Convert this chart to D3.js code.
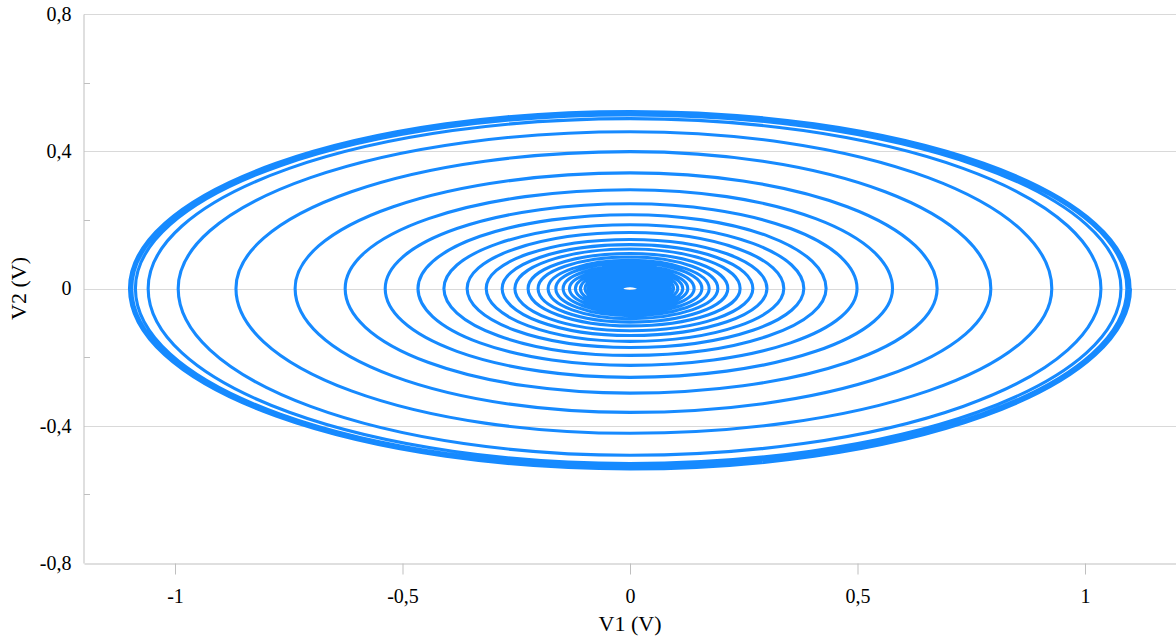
<!DOCTYPE html>
<html>
<head>
<meta charset="utf-8">
<script src="https://cdn.jsdelivr.net/npm/d3@7"></script>
<style>
  body { margin: 0; background: #fff; }
  text { font-family: "Liberation Serif", "Times New Roman", serif; fill: #000; }
</style>
</head>
<body>
<div id="plot"></div>
<script>
// Spiral, one row per turn (inner -> outer):
// crossing on the right, top, crossing on the left, bottom
const rightX = [0.017, 0.019, 0.021, 0.023, 0.025, 0.027, 0.029, 0.031, 0.034, 0.037,
  0.040, 0.043, 0.046, 0.050, 0.054, 0.058, 0.062, 0.067, 0.072, 0.077,
  0.083, 0.089, 0.096, 0.105, 0.116,
  0.127, 0.141, 0.158, 0.174, 0.193, 0.215, 0.242, 0.270, 0.301, 0.338,
  0.382, 0.431, 0.499, 0.577, 0.675, 0.793, 0.927, 1.035, 1.079, 1.092,
  1.097, 1.099, 1.100];
const topY = [0.008, 0.009, 0.010, 0.011, 0.012, 0.013, 0.014, 0.015, 0.016, 0.018,
  0.019, 0.021, 0.022, 0.024, 0.026, 0.028, 0.030, 0.032, 0.034, 0.037,
  0.040, 0.042, 0.045, 0.050, 0.055,
  0.060, 0.067, 0.075, 0.082, 0.092, 0.102, 0.115, 0.128, 0.143, 0.163,
  0.186, 0.215, 0.247, 0.288, 0.337, 0.399, 0.457, 0.495, 0.506, 0.511,
  0.514, 0.516];
const leftX = [-0.018, -0.020, -0.022, -0.024, -0.026, -0.028, -0.030, -0.033, -0.036, -0.039,
  -0.042, -0.045, -0.048, -0.052, -0.056, -0.060, -0.065, -0.070, -0.075, -0.080,
  -0.086, -0.092, -0.099, -0.109, -0.120,
  -0.133, -0.147, -0.163, -0.180, -0.202, -0.224, -0.253, -0.281, -0.316, -0.358,
  -0.409, -0.466, -0.538, -0.626, -0.736, -0.866, -0.993, -1.059, -1.087, -1.095,
  -1.098, -1.100];
const bottomY = [-0.009, -0.010, -0.011, -0.012, -0.013, -0.014, -0.015, -0.016, -0.017, -0.019,
  -0.020, -0.022, -0.023, -0.025, -0.027, -0.029, -0.031, -0.034, -0.036, -0.039,
  -0.042, -0.045, -0.048, -0.053, -0.058,
  -0.064, -0.071, -0.079, -0.088, -0.098, -0.109, -0.123, -0.137, -0.154, -0.172,
  -0.195, -0.224, -0.259, -0.305, -0.361, -0.422, -0.486, -0.510, -0.518, -0.522,
  -0.525, -0.526];

const xTicks = [-1, -0.5, 0, 0.5, 1];
const yTicks = [-0.8, -0.4, 0, 0.4, 0.8];
const yMinor = [-0.6, -0.2, 0.2, 0.6];

const w = 1176;
const h = 640;
const margin = {top: 14, right: 0, bottom: 77, left: 84};

const xScale = d3.scaleLinear()
  .domain([-1.2, 1.2])
  .range([margin.left, w - margin.right]);

const yScale = d3.scaleLinear()
  .domain([-0.8, 0.8])
  .range([h - margin.bottom, margin.top]);

const fmt = d => String(d).replace(".", ",");

const svg = d3.select("div#plot")
  .append("svg")
  .attr("width", w)
  .attr("height", h);

// gridlines
svg.append("g")
  .selectAll("line")
  .data(yTicks.filter(d => d !== -0.8))
  .join("line")
  .attr("x1", margin.left)
  .attr("x2", w)
  .attr("y1", d => Math.round(yScale(d)) + 0.5)
  .attr("y2", d => Math.round(yScale(d)) + 0.5)
  .attr("stroke", "#d9d9d9")
  .attr("stroke-width", 1);

// spiral, built from quarter ellipse arcs centred on the origin
const x0 = xScale(0), y0 = yScale(0);
let p = `M${xScale(rightX[0])},${y0}`;
rightX.forEach((r, i) => {
  if (i > 0) {
    // bottom -> right
    p += `A${xScale(r) - x0},${yScale(bottomY[i - 1]) - y0} 0 0 0 ${xScale(r)},${y0}`;
  }
  if (i >= topY.length) return;
  const t = topY[i], l = leftX[i];
  p += `A${xScale(r) - x0},${y0 - yScale(t)} 0 0 0 ${x0},${yScale(t)}`;
  p += `A${x0 - xScale(l)},${y0 - yScale(t)} 0 0 0 ${xScale(l)},${y0}`;
  if (i < bottomY.length) {
    const b = bottomY[i];
    p += `A${x0 - xScale(l)},${yScale(b) - y0} 0 0 0 ${x0},${yScale(b)}`;
  }
});

svg.append("path")
  .attr("d", p)
  .attr("fill", "none")
  .attr("stroke", "#168aff")
  .attr("stroke-width", 3.1);

// axes
const yAxis = d3.axisLeft(yScale)
  .tickValues(yTicks)
  .tickSize(0)
  .tickPadding(12)
  .tickFormat(fmt);

const yG = svg.append("g")
  .attr("transform", `translate(${margin.left - 0.5},0)`)
  .call(yAxis);
yG.select(".domain").attr("stroke", "#bfbfbf");
yG.selectAll("text").attr("font-size", 20).attr("font-family", "Liberation Serif");

svg.append("g")
  .selectAll("line")
  .data(yMinor)
  .join("line")
  .attr("x1", margin.left)
  .attr("x2", margin.left + 6)
  .attr("y1", d => Math.round(yScale(d)) + 0.5)
  .attr("y2", d => Math.round(yScale(d)) + 0.5)
  .attr("stroke", "#bfbfbf");

const xAxis = d3.axisBottom(xScale)
  .tickValues(xTicks)
  .tickSizeInner(11)
  .tickSizeOuter(0)
  .tickPadding(14)
  .tickFormat(fmt);

const xG = svg.append("g")
  .attr("transform", `translate(0,${h - margin.bottom + 0.5})`)
  .call(xAxis);
xG.select(".domain").attr("stroke", "#bfbfbf");
xG.selectAll("line").attr("stroke", "#bfbfbf");
xG.selectAll("text").attr("font-size", 20).attr("font-family", "Liberation Serif");

// axis titles
svg.append("text")
  .attr("x", xScale(0))
  .attr("y", 631)
  .attr("text-anchor", "middle")
  .attr("font-size", 22)
  .text("V1 (V)");

svg.append("text")
  .attr("transform", `translate(26,${yScale(0)}) rotate(-90)`)
  .attr("text-anchor", "middle")
  .attr("font-size", 22)
  .text("V2 (V)");
</script>
</body>
</html>
